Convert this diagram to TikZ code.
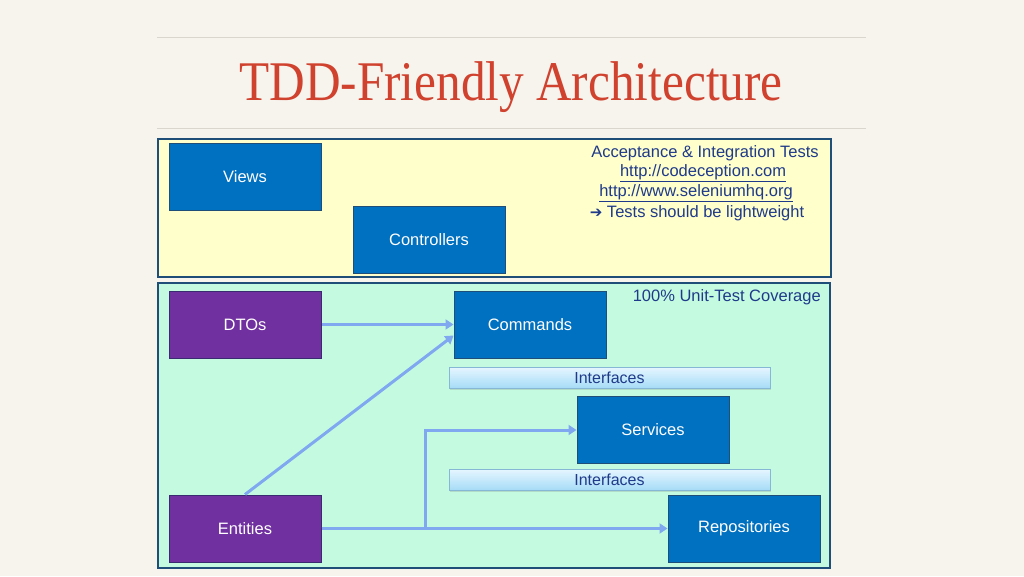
\documentclass[tikz,border=0pt]{standalone}
\usepackage{fontspec}
\setmainfont{Liberation Sans}
\newfontfamily\titlefont{Liberation Serif}
\newfontfamily\dejavu{DejaVu Sans}
\usetikzlibrary{arrows.meta,shadows}
\definecolor{bgc}{HTML}{F7F4EE}
\definecolor{rulec}{HTML}{DAD6CE}
\definecolor{titlec}{HTML}{D0412E}
\definecolor{panelb}{HTML}{1F4E79}
\definecolor{yelf}{HTML}{FFFFCC}
\definecolor{grnf}{HTML}{C4FBE0}
\definecolor{bluef}{HTML}{0070C0}
\definecolor{blueb}{HTML}{1F4E79}
\definecolor{purf}{HTML}{7030A0}
\definecolor{purb}{HTML}{3A2A70}
\definecolor{txtc}{HTML}{1F3A8A}
\definecolor{arrc}{HTML}{7FA8F0}
\definecolor{iftop}{HTML}{E6F6FF}
\definecolor{ifbot}{HTML}{A6DCF7}
\definecolor{ifb}{HTML}{86B8D6}
\tikzset{
  panel/.style={draw=panelb, line width=2pt},
  boxbase/.style={draw, line width=1pt, minimum width=152pt, minimum height=67pt, text=white, font=\fontsize{16.5}{19}\selectfont, inner sep=0pt},
  bluebox/.style={boxbase, fill=bluef, draw=blueb},
  purbox/.style={boxbase, fill=purf, draw=purb},
  ifbar/.style={draw=ifb, line width=0.8pt, top color=iftop, bottom color=ifbot, minimum width=321pt, minimum height=21pt, inner sep=0pt, text=txtc, font=\fontsize{16}{19}\selectfont, drop shadow={shadow xshift=1pt, shadow yshift=-1.5pt, opacity=0.25}},
  conn/.style={draw=arrc, line width=3pt, -{Triangle[length=8pt,width=10pt]}},
  connplain/.style={draw=arrc, line width=3pt},
  note/.style={text=txtc, font=\fontsize{16.5}{20}\selectfont, inner sep=0pt}
}
\begin{document}
\begin{tikzpicture}[x=1pt,y=-1pt]
\fill[bgc] (0,0) rectangle (1024,576);
\useasboundingbox (0,0) rectangle (1024,576);
\draw[rulec, line width=1pt] (157,37) -- (866,37);
\draw[rulec, line width=1pt] (157,128) -- (866,128);
\node[text=titlec, inner sep=0pt] (title) at (511,87) {\scalebox{0.88}[1]{\titlefont\fontsize{56}{60}\selectfont TDD-Friendly Architecture}};
% panels
\path[panel, fill=yelf] (158,139) rectangle (831,277);
\path[panel, fill=grnf] (158,283) rectangle (830,568);
% boxes
\node[bluebox] (views) at (245,176.5) {Views};
\node[bluebox] (controllers) at (429,239.5) {Controllers};
\node[purbox] (dtos) at (245,324.5) {DTOs};
\node[bluebox] (commands) at (530,324.5) {Commands};
\node[ifbar] (if1) at (609.5,377.5) {Interfaces};
\node[bluebox] (services) at (653,430) {Services};
\node[ifbar] (if2) at (609.5,479.5) {Interfaces};
\node[purbox] (entities) at (245,528.5) {Entities};
\node[bluebox] (repos) at (744,528.5) {Repositories};
% texts
\node[note] (acc) at (705,153) {Acceptance \& Integration Tests};
\node[note] (cod) at (703,173) {\underline{http://codeception.com}};
\node[note] (sel) at (696,193) {\underline{http://www.seleniumhq.org}};
\node[note] (light) at (697,213) {{\dejavu\fontsize{15}{16}\selectfont ➔} Tests should be lightweight};
\node[note, anchor=east] (cov) at (821,297) {100\% Unit-Test Coverage};
% connectors
\coordinate (split) at (425,528.5);
\draw[conn] (dtos.east) -- (commands.west);
\draw[conn] (entities.north) -- ([yshift=-11pt]commands.west);
\draw[conn] (entities.east) -- (repos.west);
\draw[conn] (split) |- (services.west);
\end{tikzpicture}
\end{document}
